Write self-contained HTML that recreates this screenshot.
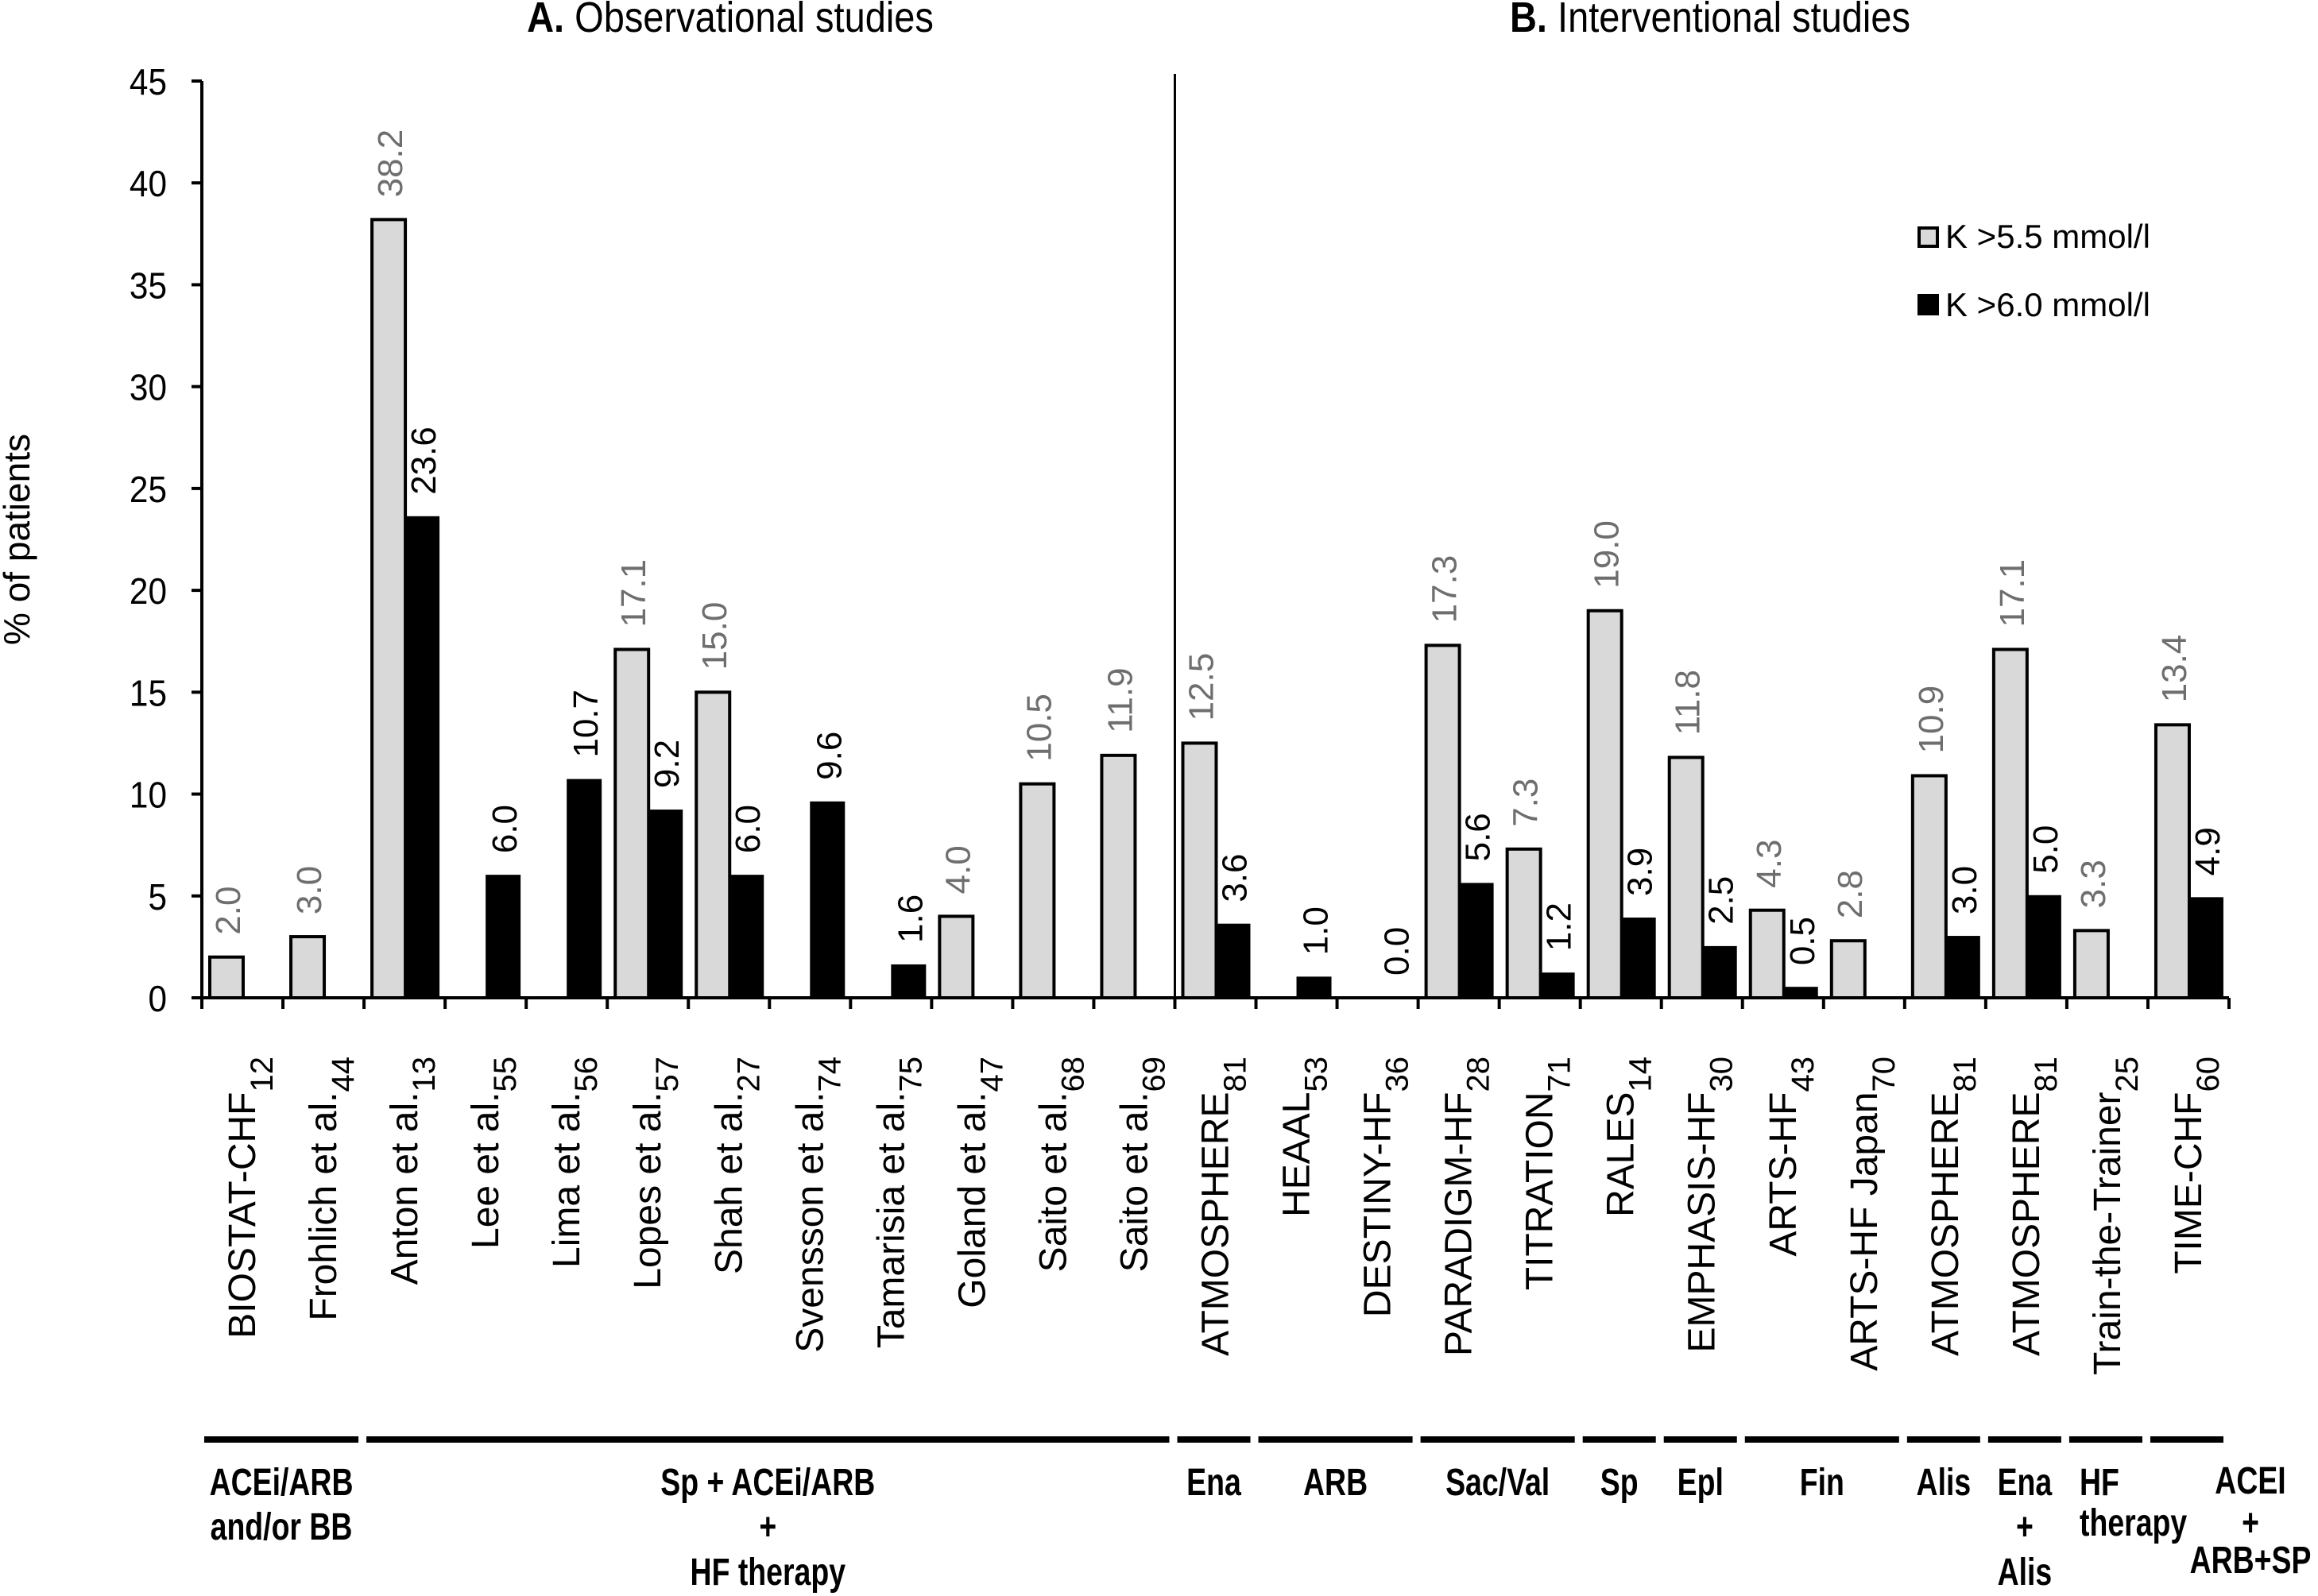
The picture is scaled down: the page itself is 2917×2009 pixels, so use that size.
<!DOCTYPE html>
<html><head><meta charset="utf-8"><style>
html,body{margin:0;padding:0;background:#fff;}
svg{display:block;}
text{font-family:"Liberation Sans",Arial,sans-serif;}
.grp{font-weight:bold;font-size:48px;}
</style></head><body>
<svg id="chart" width="2917" height="2009" viewBox="0 0 2917 2009" xmlns="http://www.w3.org/2000/svg">
<g id="bars"></g>
<g id="labels"></g>
</svg>
<script>
const categories = ["BIOSTAT-CHF","Frohlich et al.","Anton et al.","Lee et al.","Lima et al.","Lopes et al.","Shah et al.","Svensson et al.","Tamarisia et al.","Goland et al.","Saito et al.","Saito et al.","ATMOSPHERE","HEAAL","DESTINY-HF","PARADIGM-HF","TITRATION","RALES","EMPHASIS-HF","ARTS-HF","ARTS-HF Japan","ATMOSPHERE","ATMOSPHERE","Train-the-Trainer","TIME-CHF"];
const refs = ["12","44","13","55","56","57","27","74","75","47","68","69","81","53","36","28","71","14","30","43","70","81","81","25","60"];
const k55 = [2.0,3.0,38.2,null,null,17.1,15.0,null,null,4.0,10.5,11.9,12.5,null,null,17.3,7.3,19.0,11.8,4.3,2.8,10.9,17.1,3.3,13.4];
const k60 = [null,null,23.6,6.0,10.7,9.2,6.0,9.6,1.6,null,null,null,3.6,1.0,0.0,5.6,1.2,3.9,2.5,0.5,null,3.0,5.0,null,4.9];
const yTicks = [0,5,10,15,20,25,30,35,40,45];
const groupNames = ["ACEi/ARB|and/or BB","Sp + ACEi/ARB|+|HF therapy","Ena","ARB","Sac/Val","Sp","Epl","Fin","Alis","Ena|+|Alis","HF|therapy","ACEI|+|ARB+SP"];
const groupStart = [0,2,12,13,15,17,18,19,21,22,23,24];
const groupEnd   = [1,11,12,14,16,17,18,20,21,22,23,24];

const NS="http://www.w3.org/2000/svg";
const X0=254, X1=2805, Y0=1256, Y45=102, YMAX=45;
const cw=(X1-X0)/categories.length;
const xCat=i=>X0+i*cw;
const yv=v=>Y0-(v/YMAX)*(Y0-Y45);
const svg=document.getElementById('chart');
const barsG=document.getElementById('bars');
const labG=document.getElementById('labels');
function mk(tag,attrs,parent){const e=document.createElementNS(NS,tag);for(const k in attrs)e.setAttribute(k,attrs[k]);(parent||svg).appendChild(e);return e;}

// titles
let t=mk('text',{x:0,y:0,'font-size':54,'text-anchor':'middle',transform:'translate(919,40) scale(0.87,1)'});


t.innerHTML='<tspan font-weight="bold">A.</tspan> Observational studies';
t=mk('text',{x:0,y:0,'font-size':54,'text-anchor':'middle',transform:'translate(2152,40) scale(0.87,1)'});


t.innerHTML='<tspan font-weight="bold">B.</tspan> Interventional studies';

// y axis title
t=mk('text',{x:0,y:0,'font-size':46,'text-anchor':'middle',transform:'translate(37,679) rotate(-90)'});


t.textContent='% of patients';

// bars
for(let i=0;i<categories.length;i++){
  const x=xCat(i);
  if(k55[i]!==null){
    const r=mk('rect',{x:x+10,y:yv(k55[i]),width:42,height:Y0-yv(k55[i]),fill:'#d9d9d9',stroke:'#000','stroke-width':4},barsG);
    
    
    const l=mk('text',{x:0,y:0,'font-size':44,fill:'#6e6e6e',transform:`translate(${x+31+17},${yv(k55[i])-28}) rotate(-90)`},barsG);
    
    
    l.textContent=k55[i].toFixed(1);
  }
  if(k60[i]!==null){
    const h=Y0-yv(k60[i]);
    if(h>0){
      const r=mk('rect',{x:x+52,y:yv(k60[i]),width:42,height:h,fill:'#000',stroke:'#000','stroke-width':2},barsG);
      
      
    }
    const l=mk('text',{x:0,y:0,'font-size':44,fill:'#000',transform:`translate(${x+73+17},${yv(k60[i])-28}) rotate(-90)`},barsG);
    
    
    l.textContent=k60[i].toFixed(1);
  }
  // category label
  const c=mk('text',{x:0,y:0,'font-size':48,'text-anchor':'end',transform:`translate(${x+cw/2+16},1330) rotate(-90)`},labG);
  
  
  c.innerHTML=categories[i]+'<tspan font-size="40" dy="22">'+refs[i]+'</tspan>';
}

// axes
let a=mk('line',{x1:X0,y1:Y45,x2:X0,y2:Y0,stroke:'#000','stroke-width':4});


a=mk('line',{x1:X0-13,y1:Y0,x2:X1,y2:Y0,stroke:'#000','stroke-width':4});


a=mk('line',{x1:xCat(12),y1:93,x2:xCat(12),y2:Y0,stroke:'#000','stroke-width':3});


yTicks.forEach(v=>{
  const tk=mk('line',{x1:X0-13,y1:yv(v),x2:X0,y2:yv(v),stroke:'#000','stroke-width':4});
  
  
  const tl=mk('text',{x:0,y:0,'font-size':46,'text-anchor':'end',transform:`translate(210,${yv(v)+17}) scale(0.92,1)`});
  
  
  tl.textContent=v;
});
for(let i=0;i<=categories.length;i++){
  const tk=mk('line',{x1:xCat(i),y1:Y0,x2:xCat(i),y2:Y0+14,stroke:'#000','stroke-width':4});
  
  
}

// groups
const baseY=[1882,1938,1995];
groupNames.forEach((g,gi)=>{
  const xs=xCat(groupStart[gi])+3, xe=xCat(groupEnd[gi]+1)-7;
  const ln=mk('rect',{x:xs,y:1808,width:xe-xs,height:8,fill:'#000'});
  
  
  const lines=g.split('|');
  let cx=(xs+xe)/2, anchor='middle', ys=baseY;
  if(g.startsWith('HF|')){cx=2617;anchor='start';ys=[1882,1933];}
  if(g.startsWith('ACEI')){cx=2832;ys=[1880,1933,1980];}
  lines.forEach((s,li)=>{
    const tx=mk('text',{x:0,y:0,'class':'grp','text-anchor':anchor,transform:`translate(${cx},${ys[li]}) scale(0.78,1)`});
    
    
    tx.textContent=s;
  });
});

// legend
let lg=mk('rect',{x:2415,y:287,width:23,height:23,fill:'#d9d9d9',stroke:'#000','stroke-width':4});


lg=mk('text',{x:2448,y:312,'font-size':42});


lg.textContent='K >5.5 mmol/l';
lg=mk('rect',{x:2413,y:370,width:27,height:27,fill:'#000'});


lg=mk('text',{x:2448,y:398,'font-size':42});


lg.textContent='K >6.0 mmol/l';
</script>
</body></html>
